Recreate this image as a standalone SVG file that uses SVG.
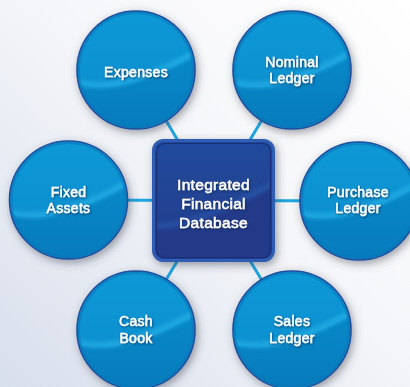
<svg xmlns="http://www.w3.org/2000/svg" xmlns:xlink="http://www.w3.org/1999/xlink" width="410" height="387" viewBox="0 0 410 387">
  <defs>
    <linearGradient id="bg" x1="1" y1="0" x2="0" y2="1">
      <stop offset="0" stop-color="#ffffff"/>
      <stop offset="0.45" stop-color="#f5f6f9"/>
      <stop offset="1" stop-color="#d8dfec"/>
    </linearGradient>
    <linearGradient id="body" x1="0" y1="0" x2="0" y2="1">
      <stop offset="0" stop-color="#0e98d6"/>
      <stop offset="1" stop-color="#0a8ccc"/>
    </linearGradient>
    <linearGradient id="lower" x1="0" y1="0" x2="0" y2="1">
      <stop offset="0" stop-color="#0888c7"/>
      <stop offset="1" stop-color="#077bbc"/>
    </linearGradient>
    <linearGradient id="sq" x1="0" y1="0" x2="0" y2="1">
      <stop offset="0" stop-color="#1f4a9c"/>
      <stop offset="1" stop-color="#243c8b"/>
    </linearGradient>
    <clipPath id="cc"><circle cx="0" cy="0" r="58"/></clipPath>
    <clipPath id="sc"><rect x="157" y="144" width="113" height="113" rx="8"/></clipPath>
    <filter id="sh" x="-30%" y="-30%" width="160%" height="160%">
      <feDropShadow dx="2" dy="3" stdDeviation="4.5" flood-color="#3a4150" flood-opacity="0.5"/>
    </filter>
    <filter id="blur" x="-20%" y="-50%" width="140%" height="200%">
      <feGaussianBlur stdDeviation="2.5"/>
    </filter>
    <filter id="ts" x="-20%" y="-30%" width="140%" height="160%">
      <feDropShadow dx="0.8" dy="1" stdDeviation="0.9" flood-color="#00264d" flood-opacity="0.75"/>
    </filter>
    <g id="bubble">
      <circle r="59" fill="url(#body)" stroke="#1c4f9e" stroke-width="1.6" filter="url(#sh)"/>
      <g clip-path="url(#cc)">
        <path d="M-62,13 Q-20,30 62,-16 L62,62 L-62,62 Z" fill="url(#lower)"/>
        <path d="M-62,11 Q-20,27 62,-19" fill="none" stroke="#33bdf0" stroke-width="5" opacity="0.65" filter="url(#blur)"/>
      </g>
      <circle r="57" fill="none" stroke="#0b74b6" stroke-width="2" opacity="0.6"/>
    </g>
    <style>
      .lbl { font-family: "Liberation Sans", Arial, sans-serif; font-size: 14px; letter-spacing: 0.3px; fill: #ffffff; stroke: #ffffff; stroke-width: 0.45; text-anchor: middle; filter: url(#ts); }
      .clbl { font-size: 15.5px; }
      .conn { stroke: #1ca6e0; stroke-width: 3; fill: none; }
    </style>
  </defs>

  <rect width="410" height="387" fill="url(#bg)"/>

  <g id="connectors">
    <line class="conn" x1="136" y1="70" x2="213.5" y2="200.5"/>
    <line class="conn" x1="292" y1="70" x2="213.5" y2="200.5"/>
    <line class="conn" x1="68.5" y1="200" x2="213.5" y2="200.5"/>
    <line class="conn" x1="359" y1="201" x2="213.5" y2="200.5"/>
    <line class="conn" x1="136" y1="330" x2="213.5" y2="200.5"/>
    <line class="conn" x1="292" y1="330" x2="213.5" y2="200.5"/>
  </g>

  <g id="center">
    <rect x="153.5" y="140.5" width="120" height="120" rx="10" fill="url(#sq)" stroke="#2e5db2" stroke-width="3" filter="url(#sh)"/>
    <g clip-path="url(#sc)">
      <path d="M150,228 Q190,232 280,182 L280,270 L150,270 Z" fill="#233a88"/>
      <path d="M150,226 Q190,230 280,180" fill="none" stroke="#2f64b8" stroke-width="5" opacity="0.55" filter="url(#blur)"/>
    </g>
    <rect x="156.5" y="143.5" width="114" height="114" rx="8" fill="none" stroke="#1a2e78" stroke-width="1.2"/>
    <text class="lbl clbl" x="213.5" y="190"><tspan x="213.5" y="190">Integrated</tspan><tspan x="213.5" y="209">Financial</tspan><tspan x="213.5" y="228">Database</tspan></text>
  </g>

  <g id="expenses">
    <use href="#bubble" xlink:href="#bubble" transform="translate(136,70)"/>
    <text class="lbl" x="136" y="76.5">Expenses</text>
  </g>
  <g id="nominal-ledger">
    <use href="#bubble" xlink:href="#bubble" transform="translate(292,70)"/>
    <text class="lbl" x="292" y="67"><tspan x="292" y="67">Nominal</tspan><tspan x="292" y="83">Ledger</tspan></text>
  </g>
  <g id="fixed-assets">
    <use href="#bubble" xlink:href="#bubble" transform="translate(68.5,200)"/>
    <text class="lbl" x="68.5" y="197"><tspan x="68.5" y="197">Fixed</tspan><tspan x="68.5" y="213">Assets</tspan></text>
  </g>
  <g id="purchase-ledger">
    <use href="#bubble" xlink:href="#bubble" transform="translate(359,201)"/>
    <text class="lbl" x="358" y="197"><tspan x="358" y="197">Purchase</tspan><tspan x="358" y="213">Ledger</tspan></text>
  </g>
  <g id="cash-book">
    <use href="#bubble" xlink:href="#bubble" transform="translate(136,330)"/>
    <text class="lbl" x="136" y="326"><tspan x="136" y="326">Cash</tspan><tspan x="136" y="342.5">Book</tspan></text>
  </g>
  <g id="sales-ledger">
    <use href="#bubble" xlink:href="#bubble" transform="translate(292,330)"/>
    <text class="lbl" x="292" y="326"><tspan x="292" y="326">Sales</tspan><tspan x="292" y="342.5">Ledger</tspan></text>
  </g>
</svg>
